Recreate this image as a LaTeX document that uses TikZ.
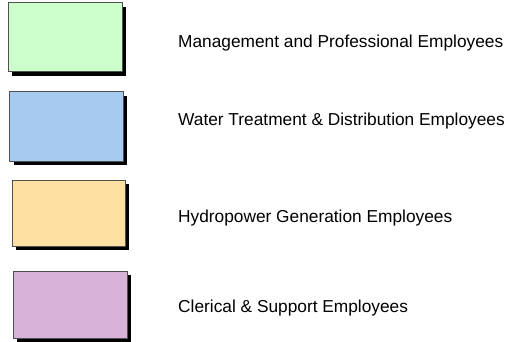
\documentclass[tikz,border=0pt]{standalone}
\usepackage{fontspec}
\setmainfont{Liberation Sans}
\usetikzlibrary{shadows}
\definecolor{cgreen}{HTML}{CCFFCC}
\definecolor{cblue}{HTML}{A6CAF0}
\definecolor{corange}{HTML}{FFE0A3}
\definecolor{cpurple}{HTML}{D8B2D8}
\definecolor{cborder}{HTML}{505050}
\tikzset{
  keybox/.style={draw=cborder, line width=1pt, inner sep=0pt,
    drop shadow={fill=black, opacity=1, shadow xshift=4pt, shadow yshift=-4pt}},
  keylabel/.style={anchor=base west, inner sep=0pt,
    font=\fontsize{17.3}{20}\selectfont}
}
\begin{document}
\begin{tikzpicture}[x=1pt,y=-1pt]
\useasboundingbox (0,0) rectangle (508,342);
\node[keybox, fill=cgreen, minimum width=114pt, minimum height=69pt] (b1) at (65,37.5) {};
\node[keybox, fill=cblue, minimum width=113.5pt, minimum height=69pt] (b2) at (66.25,126.5) {};
\node[keybox, fill=corange, minimum width=113pt, minimum height=66pt] (b3) at (68.5,213) {};
\node[keybox, fill=cpurple, minimum width=114pt, minimum height=67pt] (b4) at (70,304.5) {};
\node[keylabel] (t1) at (178,48) {Management and Professional Employees};
\node[keylabel] (t2) at (178,125) {Water Treatment \& Distribution Employees};
\node[keylabel] (t3) at (178,222) {Hydropower Generation Employees};
\node[keylabel] (t4) at (178,312) {Clerical \& Support Employees};
\end{tikzpicture}
\end{document}
